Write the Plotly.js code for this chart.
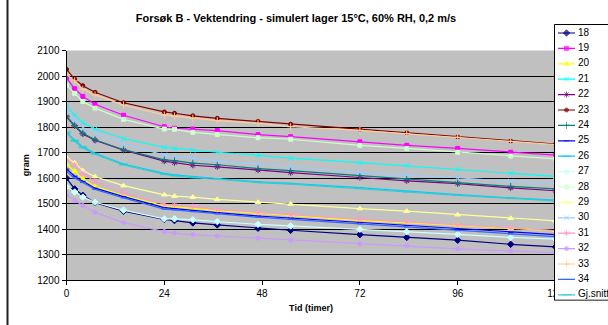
<!DOCTYPE html>
<html><head><meta charset="utf-8">
<script src="https://cdn.plot.ly/plotly-3.0.1.min.js"></script>
<style>html,body{margin:0;padding:0;background:#fff;}#chart{width:608px;height:325px;}</style>
</head><body><div id="chart"></div>
<script>
// time (hours)
const hours = [0, 2, 4, 7, 14, 24, 26.5, 31, 37, 47, 55, 72, 83.5, 96, 109, 120];
const xTicks = [0, 24, 48, 72, 96, 120];
const seriesNames = ['18','19','20','21','22','23','24','25','26','27','28','29','30','31','32','33','34','Gj.snitt'];

const s18 = [1599, 1557, 1532, 1503, 1470, 1438, 1433, 1424, 1416, 1403, 1395, 1378, 1367, 1356, 1340, 1330];
const s19 = [1993, 1950, 1920, 1889, 1846, 1801, 1795, 1792, 1786, 1770, 1762, 1742, 1728, 1716, 1701, 1690];
const s20 = [1654, 1627, 1597, 1567, 1531, 1491, 1487, 1481, 1472, 1462, 1452, 1433, 1425, 1414, 1401, 1393];
const s21 = [1881, 1846, 1818, 1792, 1755, 1720, 1716, 1709, 1701, 1689, 1678, 1660, 1647, 1634, 1618, 1606];
const s22 = [1840, 1804, 1773, 1748, 1709, 1666, 1660, 1650, 1644, 1631, 1621, 1602, 1589, 1578, 1561, 1550];
const s23 = [2026, 1988, 1962, 1936, 1895, 1859, 1854, 1844, 1834, 1822, 1811, 1791, 1777, 1761, 1745, 1733];
const s24 = [1843, 1806, 1775, 1750, 1711, 1671, 1668, 1658, 1652, 1637, 1629, 1609, 1596, 1580, 1567, 1557];
const s25 = [1635, 1607, 1587, 1560, 1527, 1484, 1480, 1472, 1464, 1451, 1443, 1426, 1414, 1400, 1387, 1378];
const s26 = [1780, 1748, 1722, 1697, 1655, 1618, 1612, 1605, 1598, 1585, 1579, 1562, 1548, 1535, 1522, 1513];
const s27 = [1566, 1545, 1525, 1505, 1474, 1440, 1440, 1436, 1429, 1418, 1412, 1399, 1389, 1379, 1367, 1360];
const s28 = [1964, 1932, 1900, 1874, 1830, 1792, 1791, 1779, 1771, 1758, 1752, 1728, 1716, 1701, 1686, 1675];
const s29 = [1680, 1660, 1629, 1605, 1570, 1534, 1529, 1525, 1516, 1505, 1498, 1480, 1470, 1456, 1442, 1432];
const s30 = [1862, 1829, 1798, 1778, 1734, 1690, 1684, 1677, 1667, 1654, 1644, 1622, 1611, 1601, 1587, 1578];
const s31 = [1671, 1651, 1618, 1586, 1542, 1497, 1494, 1488, 1476, 1465, 1456, 1438, 1428, 1416, 1403, 1394];
const s32 = [1533, 1511, 1492, 1465, 1425, 1390, 1384, 1378, 1373, 1364, 1356, 1341, 1334, 1322, 1314, 1306];
const s33 = [2006, 1981, 1948, 1926, 1886, 1847, 1843, 1835, 1825, 1815, 1801, 1787, 1774, 1760, 1743, 1731];
const s34 = [1625, 1600, 1582, 1555, 1522, 1478, 1475, 1468, 1459, 1446, 1438, 1420, 1407, 1393, 1380, 1370];
const sAvg = [1776, 1744, 1718, 1693, 1651, 1614, 1608, 1601, 1595, 1582, 1576, 1559, 1545, 1532, 1519, 1510];

const seriesValues = [s18,s19,s20,s21,s22,s23,s24,s25,s26,s27,s28,s29,s30,s31,s32,s33,s34,sAvg];
const colors = ['#000080','#FF00FF','#FFFF00','#00FFFF','#800080','#800000','#008080','#0000FF','#00CCFF',
                '#CCFFFF','#CCFFCC','#FFFF99','#99CCFF','#FF99CC','#CC99FF','#FFCC99','#3366FF','#33CCCC'];
const symbols = ['diamond','square','triangle-up','x-thin-open','asterisk-open','circle','cross-thin-open','line-ew-open','line-ew-open',
                 'diamond','square','triangle-up','x-thin-open','asterisk-open','circle','cross-thin-open','line-ew-open','line-ew-open'];
const sizes = [5,4,5,5,5,4,5,4,6, 5,4,5,5,5,4,5,4,6];

const FONT = 'Liberation Sans, Arial, sans-serif';
const W = 608, H = 325;
const traces = [];
seriesValues.forEach((vals, i) => {
  traces.push({
    type: 'scatter', mode: 'lines+markers', name: seriesNames[i],
    x: hours, y: vals, xaxis: 'x', yaxis: 'y',
    line: {color: colors[i], width: 1.2},
    marker: {symbol: symbols[i], size: sizes[i], color: colors[i], line: {color: colors[i], width: 1}},
    showlegend: false, hoverinfo: 'skip'
  });
});
// custom legend (drawn in its own small subplot, 1 unit = 1 px)
const rowY = seriesNames.map((n, i) => 33 + 15.4 * i);
seriesNames.forEach((n, i) => {
  traces.push({
    type: 'scatter', mode: 'lines+markers', x: [4, 12.5, 21], y: [rowY[i], rowY[i], rowY[i]],
    xaxis: 'x2', yaxis: 'y2', showlegend: false, hoverinfo: 'skip',
    line: {color: colors[i], width: 1.2},
    marker: {symbol: symbols[i], size: [0, sizes[i], 0], color: colors[i], line: {color: colors[i], width: 1}}
  });
});
traces.push({
  type: 'scatter', mode: 'text', x: seriesNames.map(() => 24), y: rowY, text: seriesNames,
  textposition: 'middle right', textfont: {family: FONT, size: 10, color: '#000'},
  xaxis: 'x2', yaxis: 'y2', showlegend: false, hoverinfo: 'skip', cliponaxis: false
});

const layout = {
  width: W, height: H,
  margin: {l: 0, r: 0, t: 0, b: 0},
  paper_bgcolor: '#ffffff', plot_bgcolor: '#C0C0C0',
  font: {family: FONT, size: 10, color: '#000'},
  showlegend: false,
  title: {text: 'Forsøk B - Vektendring - simulert lager 15°C, 60% RH, 0,2 m/s',
          font: {family: FONT, size: 11, color: '#000', weight: 'bold'},
          x: 296 / W, xref: 'container', xanchor: 'center', y: 1 - 18 / H, yref: 'container', yanchor: 'middle'},
  xaxis: {
    domain: [66.5 / W, 555.5 / W], range: [0, 120], tickvals: xTicks, ticktext: xTicks.map(String),
    showgrid: false, zeroline: false, showline: true, linecolor: '#000', linewidth: 1,
    ticks: 'outside', ticklen: 4, tickcolor: '#000', tickfont: {family: FONT, size: 10, color: '#000'},
    title: {text: 'Tid (timer)', font: {family: FONT, size: 9, color: '#000', weight: 'bold'}, standoff: 6},
    anchor: 'y'
  },
  yaxis: {
    domain: [45 / H, 274.5 / H], range: [1200, 2100], dtick: 100, tick0: 1200,
    showgrid: true, gridcolor: '#000', gridwidth: 1, zeroline: false, showline: true, linecolor: '#000', linewidth: 1,
    ticks: 'outside', ticklen: 4, tickcolor: '#000', tickfont: {family: FONT, size: 10, color: '#000'},
    title: {text: 'gram', font: {family: FONT, size: 9, color: '#000', weight: 'bold'}, standoff: 6},
    anchor: 'x'
  },
  xaxis2: {domain: [554 / W, 1], range: [0, 54], visible: false, anchor: 'y2', fixedrange: true},
  yaxis2: {domain: [(H - 300.7) / H, (H - 24) / H], range: [300.7, 24], visible: false, anchor: 'x2', fixedrange: true},
  shapes: [
    {type: 'rect', xref: 'x2', yref: 'y2', x0: 0.5, x1: 60, y0: 24.5, y1: 300.2, layer: 'below',
     fillcolor: '#ffffff', line: {color: '#000', width: 1}},
    {type: 'line', xref: 'paper', yref: 'paper', x0: 7.5 / W, x1: 7.5 / W, y0: 0, y1: 1, layer: 'above',
     line: {color: '#222', width: 2}}
  ]
};
Plotly.newPlot('chart', traces, layout, {staticPlot: true, displayModeBar: false});
</script></body></html>
